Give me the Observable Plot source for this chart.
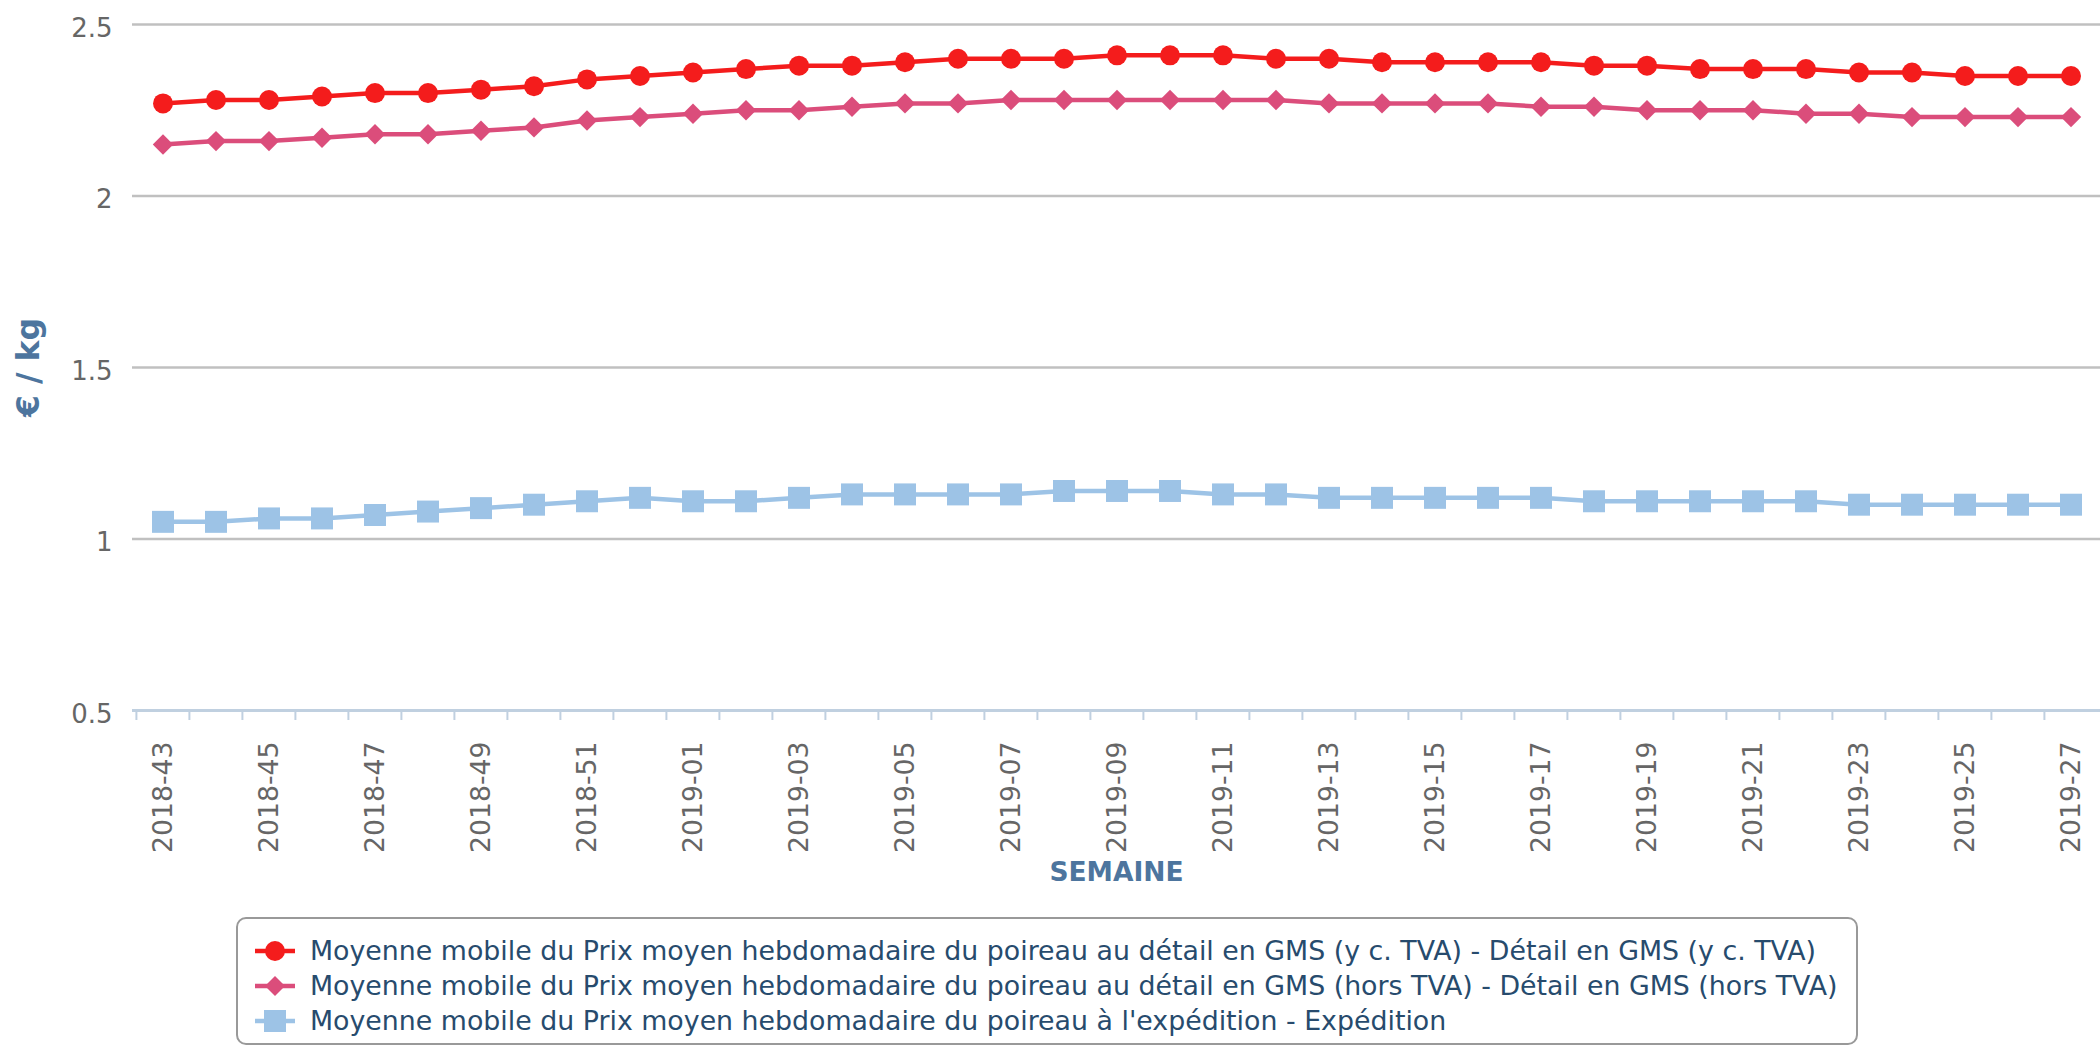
<!DOCTYPE html>
<html>
<head>
<meta charset="utf-8">
<script src="https://cdn.jsdelivr.net/npm/d3@7"></script>
<script src="https://cdn.jsdelivr.net/npm/@observablehq/plot@0.6"></script>
<style>
  html, body { margin: 0; padding: 0; background: #fff; overflow: hidden; }
  body { font-family: "DejaVu Sans", sans-serif; width: 2100px; height: 1047px; }
  #chart svg { display: block; }
  #legend {
    box-sizing: border-box;
    margin-top: 12px;
    margin-left: 236px;
    width: 1622px;
    height: 128px;
    border: 2px solid #999;
    border-radius: 10px;
    padding-top: 14px;
  }
  .row { display: flex; align-items: center; height: 35px; }
  .row svg { margin-left: 17px; margin-right: 15px; flex: none; }
  .row span { font-size: 26.8px; color: #274b6d; white-space: nowrap; }
</style>
</head>
<body>
<div id="chart"></div>
<div id="legend"></div>
<script>
// ---- Data ----
const weeks = [
  "2018-43","2018-44","2018-45","2018-46","2018-47","2018-48","2018-49","2018-50","2018-51","2018-52",
  "2019-01","2019-02","2019-03","2019-04","2019-05","2019-06","2019-07","2019-08","2019-09","2019-10",
  "2019-11","2019-12","2019-13","2019-14","2019-15","2019-16","2019-17","2019-18","2019-19","2019-20",
  "2019-21","2019-22","2019-23","2019-24","2019-25","2019-26","2019-27"
];
const xTickLabels = [
  "2018-43","2018-45","2018-47","2018-49","2018-51","2019-01","2019-03","2019-05","2019-07","2019-09",
  "2019-11","2019-13","2019-15","2019-17","2019-19","2019-21","2019-23","2019-25","2019-27"
];
const yTicks = [0.5, 1, 1.5, 2, 2.5];
const seriesNames = [
  "Moyenne mobile du Prix moyen hebdomadaire du poireau au détail en GMS (y c. TVA) - Détail en GMS (y c. TVA)",
  "Moyenne mobile du Prix moyen hebdomadaire du poireau au détail en GMS (hors TVA) - Détail en GMS (hors TVA)",
  "Moyenne mobile du Prix moyen hebdomadaire du poireau à l'expédition - Expédition"
];
const detailTTC = [
  2.27, 2.28, 2.28, 2.29, 2.30, 2.30, 2.31, 2.32, 2.34, 2.35, 2.36,
  2.37, 2.38, 2.38, 2.39, 2.40, 2.40, 2.40, 2.41, 2.41, 2.41, 2.40, 2.40, 2.39,
  2.39, 2.39, 2.39, 2.38, 2.38, 2.37, 2.37, 2.37, 2.36, 2.36, 2.35, 2.35, 2.35
];
const detailHT = [
  2.15, 2.16, 2.16, 2.17, 2.18, 2.18, 2.19, 2.20, 2.22, 2.23, 2.24,
  2.25, 2.25, 2.26, 2.27, 2.27, 2.28, 2.28, 2.28, 2.28, 2.28, 2.28, 2.27, 2.27,
  2.27, 2.27, 2.26, 2.26, 2.25, 2.25, 2.25, 2.24, 2.24, 2.23, 2.23, 2.23, 2.23
];
const expedition = [
  1.05, 1.05, 1.06, 1.06, 1.07, 1.08, 1.09, 1.10, 1.11, 1.12, 1.11,
  1.11, 1.12, 1.13, 1.13, 1.13, 1.13, 1.14, 1.14, 1.14, 1.13, 1.13, 1.12, 1.12,
  1.12, 1.12, 1.12, 1.11, 1.11, 1.11, 1.11, 1.11, 1.10, 1.10, 1.10, 1.10, 1.10
];

// ---- Styles ----
const colors = ["#f41c1c", "#db4d7b", "#9dc3e6"];
const symbols = ["circle", "diamond2", "square"];
const radii = [10, 9.2, 12.4];
const seriesValues = [detailTTC, detailHT, expedition];

const W = 2100, H = 905, ML = 132, MR = 0, MT = 24, MB = 195;
const half = (W - ML - MR) / weeks.length / 2;

const dataMarks = [];
[2, 1, 0].forEach(k => {
  const rows = weeks.map((w, i) => ({week: w, value: seriesValues[k][i]}));
  dataMarks.push(Plot.line(rows, {x: "week", y: "value", stroke: colors[k], strokeWidth: 4.5}));
  dataMarks.push(Plot.dot(rows, {x: "week", y: "value", fill: colors[k], stroke: "none", symbol: symbols[k], r: radii[k]}));
});

const chart = Plot.plot({
  width: W, height: H,
  marginLeft: ML, marginRight: MR, marginTop: MT, marginBottom: MB,
  style: {fontFamily: "DejaVu Sans", fontSize: "25px", background: "white", overflow: "visible"},
  x: {type: "band", domain: weeks, padding: 0, axis: null},
  y: {domain: [0.5, 2.5], axis: null},
  marks: [
    Plot.gridY([1, 1.5, 2, 2.5], {stroke: "#c0c0c0", strokeOpacity: 1, strokeWidth: 2.5}),
    Plot.ruleY([0.5], {stroke: "#c0d0e0", strokeWidth: 3}),
    Plot.axisX(weeks, {anchor: "bottom", tickSize: 10, tickFormat: () => "", dx: -half, color: "#c0d0e0", strokeWidth: 2, label: null}),
    Plot.axisX(xTickLabels, {anchor: "bottom", tickSize: 0, tickPadding: 31, tickRotate: -90, fontSize: 26.7, color: "#666", label: null}),
    Plot.axisY(yTicks, {anchor: "left", tickSize: 0, tickPadding: 20, fontSize: 26, color: "#666", tickFormat: d => String(d), label: null, dy: 4}),
    Plot.text(["€ / kg"], {text: d => d, frameAnchor: "left", textAnchor: "middle", lineAnchor: "middle", rotate: -90, dx: -104, fontSize: 31.5, fontWeight: "bold", fill: "#4d759e"}),
    Plot.text(["SEMAINE"], {text: d => d, frameAnchor: "bottom", textAnchor: "middle", lineAnchor: "middle", dy: 162, fontSize: 26.5, fontWeight: "bold", fill: "#4d759e"}),
    ...dataMarks
  ]
});
document.getElementById("chart").appendChild(chart);

// ---- Legend ----
const legend = document.getElementById("legend");
const shapeSvg = k => {
  const c = colors[k];
  let m;
  if (k === 0) m = `<circle cx="20" cy="12" r="10" fill="${c}"/>`;
  else if (k === 1) m = `<path d="M20,2L30,12L20,22L10,12Z" fill="${c}"/>`;
  else m = `<rect x="9" y="1" width="22" height="22" fill="${c}"/>`;
  return `<svg width="40" height="24" viewBox="0 0 40 24"><line x1="0" y1="12" x2="40" y2="12" stroke="${c}" stroke-width="4.5"/>${m}</svg>`;
};
seriesNames.forEach((name, k) => {
  const row = document.createElement("div");
  row.className = "row";
  row.innerHTML = shapeSvg(k);
  const span = document.createElement("span");
  span.textContent = name;
  row.appendChild(span);
  legend.appendChild(row);
});
</script>
</body>
</html>
